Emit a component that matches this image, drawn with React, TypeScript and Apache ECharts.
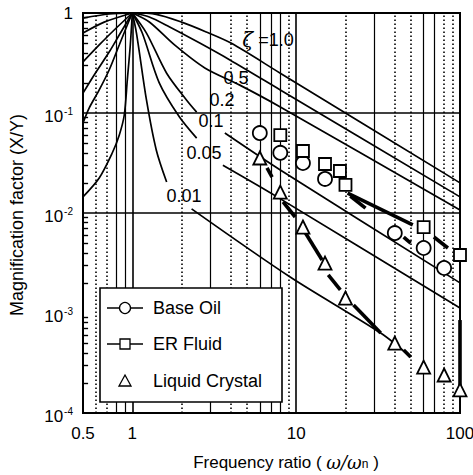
import { useEffect, useRef } from "react";
import * as echarts from "echarts";

// ---------- data ----------
const xTickLabels = [0.5, 1, 10, 100];
const yTickLabels = [1e-4, 1e-3, 1e-2, 1e-1, 1];

const xMajorGrid = [1, 10];
const xSolidMinor = [0.8, 0.9, 3, 6, 7, 8, 30, 60, 70];
const xDottedMinor = [0.6, 0.7, 2, 4, 5, 9, 20, 40, 50, 80, 90];
const yMajorGrid = [1e-3, 1e-2, 1e-1];

// damping-ratio curves, above resonance
const zeta100 = [[1, 1], [1.4, 0.97], [2, 0.81], [2.8, 0.65], [4, 0.5], [8, 0.25], [100, 0.02]];
const zeta050 = [[1, 1], [1.27, 0.912], [1.69, 0.724], [2.58, 0.5], [3.94, 0.339], [8, 0.17], [100, 0.0145]];
const zeta020 = [[1, 1], [1.27, 0.813], [1.81, 0.479], [2.77, 0.282], [4.53, 0.19], [8, 0.115], [100, 0.0107]];
const zeta010a = [[1, 1], [1.22, 0.63], [1.62, 0.25], [2.14, 0.135], [2.47, 0.102]];
const zeta010b = [[3.67, 0.063], [8, 0.0269], [100, 0.002]];
const zeta005a = [[1, 1], [1.15, 0.63], [1.46, 0.2], [1.94, 0.091], [2.47, 0.056]];
const zeta005b = [[3.57, 0.03], [7.65, 0.0145], [100, 0.00112]];
const zeta001a = [[1, 1], [1.06, 0.63], [1.22, 0.135], [1.4, 0.0427], [1.62, 0.0204]];
const zeta001b = [[2.3, 0.011], [9.19, 0.00229], [32.8, 0.00063], [50, 0.000363]];

// curves below resonance
const belowA = [[0.5, 0.0145], [0.628, 0.0224], [0.754, 0.0398], [0.832, 0.06], [0.893, 0.0955], [0.932, 0.214], [0.972, 0.479], [1, 1]];
const belowB = [[0.5, 0.0794], [0.545, 0.112], [0.628, 0.17], [0.722, 0.269], [0.832, 0.479], [0.932, 0.759], [1, 1]];
const belowC = [[0.5, 0.158], [0.585, 0.24], [0.722, 0.407], [0.832, 0.603], [1, 1]];
const belowD = [[0.5, 0.324], [0.628, 0.479], [0.775, 0.676], [1, 1]];
const belowE = [[0.5, 0.63], [0.673, 0.81], [1, 1]];
const belowF = [[0.5, 0.89], [0.722, 0.977], [1, 1]];

// thick line pieces near the measured points
const thickPieces = [
  [[6.64, 0.0282], [7.13, 0.0229]],
  [[8.32, 0.0129], [9.86, 0.00912]],
  [[11.4, 0.0063], [14.4, 0.00339]],
  [[15.7, 0.0024], [18.6, 0.0017]],
  [[22.4, 0.0012], [32.8, 0.00063]],
  [[45.3, 0.000427], [50, 0.000363]],
  [[20.6, 0.0158], [51.5, 0.0076]],
  [[21.4, 0.0148], [26.5, 0.0112]],
  [[45.3, 0.00575], [50, 0.005]],
  [[69.3, 0.00575], [84.4, 0.00447]],
  [[100, 0.00085], [100, 0.00018]],
];

// measured points
const baseOilX = [6, 8, 11, 15, 40, 60, 80];
const baseOilY = [0.063, 0.04, 0.0316, 0.0219, 0.0063, 0.00447, 0.00282];
const erFluidX = [8, 11, 15, 18.5, 20, 60, 100];
const erFluidY = [0.06, 0.0417, 0.0309, 0.0263, 0.0191, 0.00724, 0.0038];
const lcX = [6, 8, 11, 15, 20, 40, 60, 80, 100];
const lcY = [0.0355, 0.0162, 0.00724, 0.00316, 0.00141, 0.0005, 0.000288, 0.00024, 0.00017];

const FONT = '"Liberation Sans", Arial, Helvetica, sans-serif';

export default function App() {
  const ref = useRef<HTMLDivElement>(null);

  useEffect(() => {
    if (!ref.current) return;
    const chart = echarts.init(ref.current, null, { renderer: "svg" });

    const yMinor: number[] = [];
    for (let d = -4; d < 0; d++) {
      for (let m = 2; m <= 9; m++) yMinor.push(m * Math.pow(10, d));
    }

    const curve = (data: number[][], width = 1.7) => ({
      type: "line",
      data,
      symbol: "none",
      smooth: 0.3,
      silent: true,
      z: 3,
      lineStyle: { color: "#000", width },
    });

    const zip = (xs: number[], ys: number[]) => xs.map((x, i) => [x, ys[i]]);

    const marker = (name: string, symbol: string, size: number, data: number[][]) => ({
      name,
      type: "scatter",
      symbol,
      symbolSize: size,
      clip: false,
      z: 6,
      data,
      itemStyle: { color: "#fff", borderColor: "#000", borderWidth: 1.8, opacity: 1 },
    });

    const gridLines: any[] = [
      ...xMajorGrid.map((v) => ({ xAxis: v, lineStyle: { type: "solid", width: 1.6, color: "#000" } })),
      ...xSolidMinor.map((v) => ({ xAxis: v, lineStyle: { type: "solid", width: 1.2, color: "#000" } })),
      ...xDottedMinor.map((v) => ({ xAxis: v, lineStyle: { type: [1.6, 2.4], width: 1.6, color: "#000" } })),
      ...yMajorGrid.map((v) => ({ yAxis: v, lineStyle: { type: "solid", width: 1.6, color: "#000" } })),
      ...yMinor.map((v) => [
        { coord: [0.5, v], lineStyle: { type: "solid", width: 1.4, color: "#000" } },
        { coord: [0.537, v] },
      ]),
    ];

    const series: any[] = [
      {
        type: "line",
        data: [[1, 1]],
        symbol: "none",
        silent: true,
        lineStyle: { opacity: 0 },
        z: 1,
        markLine: {
          silent: true,
          symbol: ["none", "none"],
          label: { show: false },
          animation: false,
          data: gridLines,
        },
      },
      curve(zeta100),
      curve(zeta050),
      curve(zeta020),
      curve(zeta010a),
      curve(zeta010b),
      curve(zeta005a),
      curve(zeta005b),
      curve(zeta001a),
      curve(zeta001b),
      curve(belowA),
      curve(belowB),
      curve(belowC),
      curve(belowD),
      curve(belowE),
      curve(belowF),
      ...thickPieces.map((p) => ({
        type: "line",
        data: p,
        symbol: "none",
        silent: true,
        z: 4,
        clip: false,
        lineStyle: { color: "#000", width: 3.6 },
      })),
      marker("Base Oil", "circle", 14, zip(baseOilX, baseOilY)),
      marker("ER Fluid", "rect", 12, zip(erFluidX, erFluidY)),
      marker("Liquid Crystal", "triangle", 13, zip(lcX, lcY)),
    ];

    const txt = (text: string, x: number, y: number, size = 18, extra: any = {}) => ({
      type: "text",
      x,
      y,
      z: 50,
      silent: true,
      style: {
        text,
        fill: "#000",
        fontSize: size,
        fontFamily: FONT,
        align: "center",
        verticalAlign: "middle",
        ...extra,
      },
    });

    const graphic: any[] = [
      // curve labels
      txt("{z|ζ} =1.0", 268, 40, 18, { rich: { z: { fontSize: 20, fontStyle: "italic", fontFamily: "DejaVu Serif", fill: "#000" } } }),
      txt("0.5", 236, 78),
      txt("0.2", 222, 100),
      txt("0.1", 211, 121),
      txt("0.05", 204, 153),
      txt("0.01", 184, 196),
      // legend box
      {
        type: "rect",
        z: 40,
        silent: true,
        shape: { x: 100, y: 288, width: 182, height: 114 },
        style: { fill: "#fff", stroke: "#000", lineWidth: 1.6 },
      },
      { type: "line", z: 41, shape: { x1: 107, y1: 308, x2: 143, y2: 308 }, style: { stroke: "#000", lineWidth: 1.6 } },
      { type: "circle", z: 42, shape: { cx: 125, cy: 308, r: 5.5 }, style: { fill: "#fff", stroke: "#000", lineWidth: 1.3 } },
      { type: "line", z: 41, shape: { x1: 107, y1: 344, x2: 143, y2: 344 }, style: { stroke: "#000", lineWidth: 1.6 } },
      { type: "rect", z: 42, shape: { x: 120, y: 339, width: 10, height: 10 }, style: { fill: "#fff", stroke: "#000", lineWidth: 1.3 } },
      {
        type: "polygon",
        z: 42,
        shape: { points: [[125, 375], [131, 386], [119, 386]] },
        style: { fill: "#fff", stroke: "#000", lineWidth: 1.3 },
      },
      { ...txt("Base Oil", 153, 308, 18, { align: "left" }), z: 43 },
      { ...txt("ER Fluid", 153, 344, 18, { align: "left" }), z: 43 },
      { ...txt("Liquid Crystal", 153, 381, 18, { align: "left" }), z: 43 },
      // axis titles
      txt("Frequency ratio ( {w|ω/ω}{n|n} )", 286, 462, 17, {
        rich: {
          w: { fontSize: 18, fontStyle: "italic", fontFamily: "DejaVu Serif", fill: "#000" },
          n: { fontSize: 12, fill: "#000", padding: [4, 0, 0, 0] },
        },
      }),
      { ...txt("Magnification factor (X/Y)", 17, 215, 18), rotation: Math.PI / 2 },
    ];

    const option: any = {
      animation: false,
      backgroundColor: "#fff",
      textStyle: { fontFamily: FONT, color: "#000" },
      grid: {
        left: 83,
        right: 13,
        top: 13,
        bottom: 62,
        show: true,
        borderColor: "#000",
        borderWidth: 2,
        backgroundColor: "transparent",
        containLabel: false,
        outerBoundsMode: "none",
      },
      xAxis: {
        type: "log",
        logBase: 10,
        min: xTickLabels[0],
        max: xTickLabels[xTickLabels.length - 1],
        axisLine: { show: true, onZero: false, lineStyle: { color: "#000", width: 2 } },
        axisTick: { show: false },
        minorTick: { show: false },
        splitLine: { show: false },
        axisLabel: {
          show: true,
          color: "#000",
          fontSize: 17,
          fontFamily: FONT,
          margin: 12,
          formatter: (v: number) => String(+Number(v).toPrecision(3)),
        },
      },
      yAxis: {
        type: "log",
        logBase: 10,
        min: yTickLabels[0],
        max: yTickLabels[yTickLabels.length - 1],
        axisLine: { show: true, onZero: false, lineStyle: { color: "#000", width: 2 } },
        axisTick: { show: false },
        minorTick: { show: false },
        splitLine: { show: false },
        axisLabel: {
          show: true,
          color: "#000",
          fontSize: 17,
          fontFamily: FONT,
          margin: 10,
          formatter: (v: number) => {
            const e = Math.round(Math.log10(v));
            return e === 0 ? "1" : `{b|10}{s|${e}}`;
          },
          rich: {
            b: { fontSize: 17, fontFamily: FONT, color: "#000", padding: [6, 0, 0, 0] },
            s: { fontSize: 10, fontFamily: FONT, color: "#000", padding: [0, 0, 4, 1] },
          },
        },
      },
      graphic,
      series,
    };

    chart.setOption(option);
    return () => chart.dispose();
  }, []);

  return (
    <div
      ref={ref}
      style={{ position: "absolute", left: 0, top: 0, width: 473, height: 475, background: "#fff" }}
    />
  );
}
